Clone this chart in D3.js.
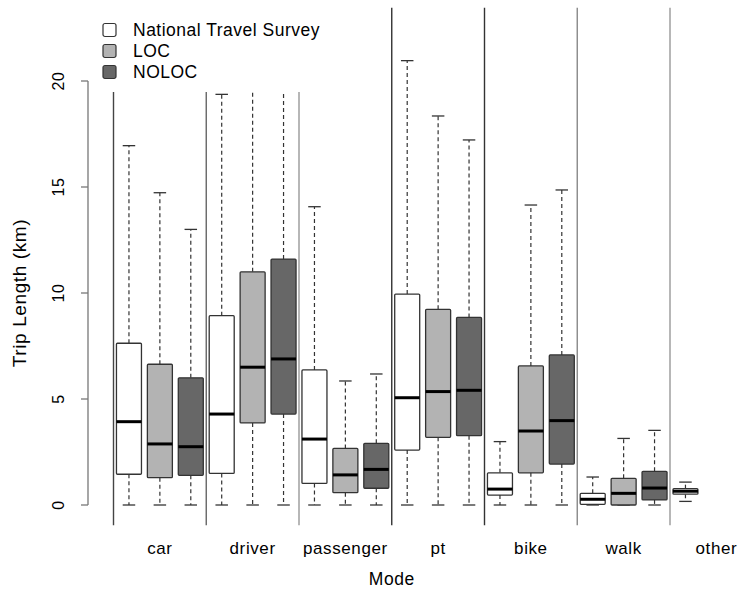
<!DOCTYPE html>
<html>
<head>
<meta charset="utf-8">
<script src="https://cdn.jsdelivr.net/npm/d3@7"></script>
<style>
  body { margin: 0; background: #fff; }
  svg { font-family: "Liberation Sans", Arial, sans-serif; }
</style>
</head>
<body>
<script>
// categories
const modes = ["car", "driver", "passenger", "pt", "bike", "walk", "other"];
const surveys = ["National Travel Survey", "LOC", "NOLOC"];
const yTicks = [0, 5, 10, 15, 20];

// box stats per mode: [lower whisker, Q1, median, Q3, upper whisker]
const ntsStats = [
  [0, 1.45, 3.93, 7.63, 16.95],
  [0, 1.49, 4.29, 8.93, 19.37],
  [0, 1.02, 3.11, 6.37, 14.07],
  [0, 2.59, 5.06, 9.95, 20.96],
  [0, 0.47, 0.75, 1.52, 2.99],
  [0, 0.03, 0.27, 0.55, 1.32],
  [0.17, 0.51, 0.65, 0.77, 1.08]
];
const locStats = [
  [0, 1.29, 2.88, 6.64, 14.73],
  [0, 3.87, 6.50, 11.0, 22.5],
  [0, 0.58, 1.42, 2.67, 5.85],
  [0, 3.19, 5.35, 9.23, 18.35],
  [0, 1.52, 3.49, 6.56, 14.15],
  [0, 0, 0.55, 1.26, 3.14],
  null
];
const nolocStats = [
  [0, 1.40, 2.75, 6.00, 13.0],
  [0, 4.29, 6.89, 11.6, 23.5],
  [0, 0.79, 1.68, 2.91, 6.18],
  [0, 3.27, 5.41, 8.85, 17.22],
  [0, 1.93, 3.98, 7.08, 14.86],
  [0, 0.24, 0.80, 1.59, 3.52],
  null
];

const fills = ["#ffffff", "#b3b3b3", "#676767"];
const sepColors = ["#444", "#666", "#999", "#333", "#333", "#888", "#999"];

const width = 754, height = 590;
const svg = d3.select("body").append("svg")
  .attr("width", width)
  .attr("height", height);

// position 1..21 -> pixel
const x = d3.scaleLinear().domain([0.5, 18.5]).range([113.5, 670]);
const y = d3.scaleLinear().domain([0, 20]).range([505, 81]);
const yLo = -0.95, yHi = 23.45;
const boxW = 25, capW = 12.5;

// flatten into boxes
const allStats = [ntsStats, locStats, nolocStats];
const boxes = [];
modes.forEach((m, i) => {
  allStats.forEach((s, j) => {
    if (s[i]) {
      const [lo, q1, med, q3, hi] = s[i];
      boxes.push({ pos: i * 3 + j + 1, lo, q1, med, q3, hi, fill: fills[j] });
    }
  });
});

// separators between modes
const seps = d3.range(modes.length).map(i => i * 3 + 0.5);
svg.selectAll(".sep")
  .data(seps)
  .enter().append("line")
  .attr("class", "sep")
  .attr("x1", d => x(d)).attr("x2", d => x(d))
  .attr("y1", y(yHi)).attr("y2", y(yLo))
  .attr("stroke", (d, i) => sepColors[i])
  .attr("stroke-width", 1.4);

const g = svg.selectAll(".box")
  .data(boxes)
  .enter().append("g")
  .attr("class", "box");

// whiskers
g.append("line")
  .attr("x1", d => x(d.pos)).attr("x2", d => x(d.pos))
  .attr("y1", d => y(d.q3)).attr("y2", d => y(d.hi))
  .attr("stroke", "#333").attr("stroke-width", 1.2)
  .attr("stroke-dasharray", "4,3");
g.append("line")
  .attr("x1", d => x(d.pos)).attr("x2", d => x(d.pos))
  .attr("y1", d => y(d.q1)).attr("y2", d => y(d.lo))
  .attr("stroke", "#333").attr("stroke-width", 1.2)
  .attr("stroke-dasharray", "4,3");
// caps
["hi", "lo"].forEach(k => {
  g.append("line")
    .attr("x1", d => x(d.pos) - capW / 2).attr("x2", d => x(d.pos) + capW / 2)
    .attr("y1", d => y(d[k])).attr("y2", d => y(d[k]))
    .attr("stroke", "#333").attr("stroke-width", 1.3);
});
// box
g.append("rect")
  .attr("x", d => x(d.pos) - boxW / 2)
  .attr("width", boxW)
  .attr("y", d => y(d.q3))
  .attr("height", d => Math.max(y(d.q1) - y(d.q3), 0.5))
  .attr("rx", 1)
  .attr("fill", d => d.fill)
  .attr("stroke", "#333").attr("stroke-width", 1.3);
// median
g.append("line")
  .attr("x1", d => x(d.pos) - boxW / 2).attr("x2", d => x(d.pos) + boxW / 2)
  .attr("y1", d => y(d.med)).attr("y2", d => y(d.med))
  .attr("stroke", "#000").attr("stroke-width", 3);

// y axis (R style)
const yAxis = svg.append("g").attr("transform", "translate(88,0)");
yAxis.append("line")
  .attr("x1", 0).attr("x2", 0)
  .attr("y1", y(0)).attr("y2", y(20))
  .attr("stroke", "#777").attr("stroke-width", 1.3);
yAxis.selectAll(".tick")
  .data(yTicks)
  .enter().append("line")
  .attr("x1", -7).attr("x2", 0)
  .attr("y1", d => y(d)).attr("y2", d => y(d))
  .attr("stroke", "#777").attr("stroke-width", 1.3);
yAxis.selectAll(".tlab")
  .data(yTicks)
  .enter().append("text")
  .attr("transform", d => `translate(-30,${y(d)}) rotate(-90)`)
  .attr("text-anchor", "middle")
  .attr("dy", "0.35em")
  .style("font-size", "16px")
  .style("letter-spacing", "0.5px")
  .text(d => d);

// mode labels
svg.selectAll(".mlab")
  .data(modes)
  .enter().append("text")
  .attr("x", (d, i) => x(i * 3 + 2))
  .attr("y", 554)
  .attr("text-anchor", "middle")
  .style("font-size", "17px")
  .style("letter-spacing", "0.6px")
  .text(d => d);

// axis titles
svg.append("text")
  .attr("x", x(9.5))
  .attr("y", 585)
  .attr("text-anchor", "middle")
  .style("font-size", "17.5px")
  .style("letter-spacing", "0.5px")
  .text("Mode");
svg.append("text")
  .attr("transform", `translate(26,${y(10)}) rotate(-90)`)
  .attr("text-anchor", "middle")
  .style("font-size", "19px")
  .style("letter-spacing", "0.6px")
  .text("Trip Length (km)");

// legend with white background
const legend = svg.append("g");
legend.append("rect")
  .attr("x", 96).attr("y", 0)
  .attr("width", 230).attr("height", 92)
  .attr("fill", "#fff");
const entries = legend.selectAll(".entry")
  .data(surveys)
  .enter().append("g")
  .attr("transform", (d, i) => `translate(103, ${30 + i * 21})`);
entries.append("rect")
  .attr("x", 0).attr("y", -6.5)
  .attr("width", 13).attr("height", 13)
  .attr("rx", 2)
  .attr("fill", (d, i) => fills[i])
  .attr("stroke", "#333").attr("stroke-width", 1.2);
entries.append("text")
  .attr("x", 30)
  .attr("dy", "0.36em")
  .style("font-size", "17.5px")
  .style("letter-spacing", "0.5px")
  .text(d => d);
</script>
</body>
</html>
